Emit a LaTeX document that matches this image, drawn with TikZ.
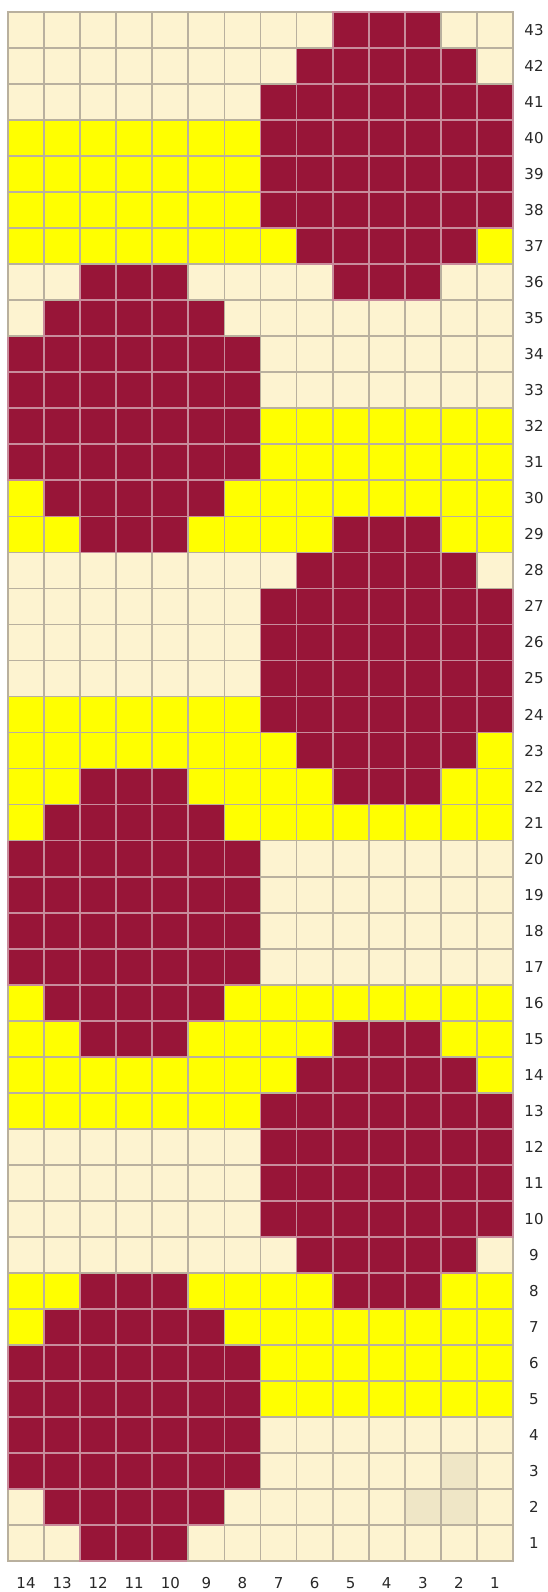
\documentclass[tikz,border=0pt]{standalone}
\usepackage{fontspec}
\setmainfont{DejaVu Sans}
\usepackage{tikz}
\usepackage{xcolor}
\definecolor{creamc}{RGB}{253,243,208}
\definecolor{yellowc}{RGB}{255,255,0}
\definecolor{maroonc}{RGB}{152,21,56}
\definecolor{shadec}{RGB}{239,230,198}
\definecolor{gridc}{RGB}{185,176,158}
\definecolor{pinkc}{RGB}{200,140,156}
\definecolor{labelc}{RGB}{40,40,40}
\tikzset{
  cr/.style={fill=creamc, draw=gridc},
  ye/.style={fill=yellowc, draw=gridc},
  sh/.style={fill=shadec, draw=gridc},
  ma/.style={fill=maroonc, draw=pinkc},
  numlbl/.style={font=\fontsize{15}{17}\selectfont, text=labelc, inner sep=0pt,
    text height=11pt, text depth=0pt}
}

\begin{document}
\begin{tikzpicture}[x=36.07pt, y=36.02pt, line width=1.8pt]
  \useasboundingbox (-8pt,-31pt) rectangle (540pt,1561pt);
  % chart rows, bottom (row 1) to top (row 43), stitches from col 14 to col 1
  \foreach \cells [count=\r] in {
    {cr,cr,ma,ma,ma,cr,cr,cr,cr,cr,cr,cr,cr,cr},
    {cr,ma,ma,ma,ma,ma,cr,cr,cr,cr,cr,sh,sh,cr},
    {ma,ma,ma,ma,ma,ma,ma,cr,cr,cr,cr,cr,sh,cr},
    {ma,ma,ma,ma,ma,ma,ma,cr,cr,cr,cr,cr,cr,cr},
    {ma,ma,ma,ma,ma,ma,ma,ye,ye,ye,ye,ye,ye,ye},
    {ma,ma,ma,ma,ma,ma,ma,ye,ye,ye,ye,ye,ye,ye},
    {ye,ma,ma,ma,ma,ma,ye,ye,ye,ye,ye,ye,ye,ye},
    {ye,ye,ma,ma,ma,ye,ye,ye,ye,ma,ma,ma,ye,ye},
    {cr,cr,cr,cr,cr,cr,cr,cr,ma,ma,ma,ma,ma,cr},
    {cr,cr,cr,cr,cr,cr,cr,ma,ma,ma,ma,ma,ma,ma},
    {cr,cr,cr,cr,cr,cr,cr,ma,ma,ma,ma,ma,ma,ma},
    {cr,cr,cr,cr,cr,cr,cr,ma,ma,ma,ma,ma,ma,ma},
    {ye,ye,ye,ye,ye,ye,ye,ma,ma,ma,ma,ma,ma,ma},
    {ye,ye,ye,ye,ye,ye,ye,ye,ma,ma,ma,ma,ma,ye},
    {ye,ye,ma,ma,ma,ye,ye,ye,ye,ma,ma,ma,ye,ye},
    {ye,ma,ma,ma,ma,ma,ye,ye,ye,ye,ye,ye,ye,ye},
    {ma,ma,ma,ma,ma,ma,ma,cr,cr,cr,cr,cr,cr,cr},
    {ma,ma,ma,ma,ma,ma,ma,cr,cr,cr,cr,cr,cr,cr},
    {ma,ma,ma,ma,ma,ma,ma,cr,cr,cr,cr,cr,cr,cr},
    {ma,ma,ma,ma,ma,ma,ma,cr,cr,cr,cr,cr,cr,cr},
    {ye,ma,ma,ma,ma,ma,ye,ye,ye,ye,ye,ye,ye,ye},
    {ye,ye,ma,ma,ma,ye,ye,ye,ye,ma,ma,ma,ye,ye},
    {ye,ye,ye,ye,ye,ye,ye,ye,ma,ma,ma,ma,ma,ye},
    {ye,ye,ye,ye,ye,ye,ye,ma,ma,ma,ma,ma,ma,ma},
    {cr,cr,cr,cr,cr,cr,cr,ma,ma,ma,ma,ma,ma,ma},
    {cr,cr,cr,cr,cr,cr,cr,ma,ma,ma,ma,ma,ma,ma},
    {cr,cr,cr,cr,cr,cr,cr,ma,ma,ma,ma,ma,ma,ma},
    {cr,cr,cr,cr,cr,cr,cr,cr,ma,ma,ma,ma,ma,cr},
    {ye,ye,ma,ma,ma,ye,ye,ye,ye,ma,ma,ma,ye,ye},
    {ye,ma,ma,ma,ma,ma,ye,ye,ye,ye,ye,ye,ye,ye},
    {ma,ma,ma,ma,ma,ma,ma,ye,ye,ye,ye,ye,ye,ye},
    {ma,ma,ma,ma,ma,ma,ma,ye,ye,ye,ye,ye,ye,ye},
    {ma,ma,ma,ma,ma,ma,ma,cr,cr,cr,cr,cr,cr,cr},
    {ma,ma,ma,ma,ma,ma,ma,cr,cr,cr,cr,cr,cr,cr},
    {cr,ma,ma,ma,ma,ma,cr,cr,cr,cr,cr,cr,cr,cr},
    {cr,cr,ma,ma,ma,cr,cr,cr,cr,ma,ma,ma,cr,cr},
    {ye,ye,ye,ye,ye,ye,ye,ye,ma,ma,ma,ma,ma,ye},
    {ye,ye,ye,ye,ye,ye,ye,ma,ma,ma,ma,ma,ma,ma},
    {ye,ye,ye,ye,ye,ye,ye,ma,ma,ma,ma,ma,ma,ma},
    {ye,ye,ye,ye,ye,ye,ye,ma,ma,ma,ma,ma,ma,ma},
    {cr,cr,cr,cr,cr,cr,cr,ma,ma,ma,ma,ma,ma,ma},
    {cr,cr,cr,cr,cr,cr,cr,cr,ma,ma,ma,ma,ma,cr},
    {cr,cr,cr,cr,cr,cr,cr,cr,cr,ma,ma,ma,cr,cr}} {
    \foreach \c [count=\i] in \cells
      \path[\c] (\i-1,\r-1) rectangle (\i,\r);
    \node[numlbl] (row\r) at (526pt,\r-0.5) {\r};
  }
  % stitch numbers along the bottom
  \foreach \i in {1,...,14}
    \pgfmathtruncatemacro{\n}{15-\i}
    \node[numlbl] (col\n) at (\i-0.5,-22pt) {\n};
\end{tikzpicture}
\end{document}
